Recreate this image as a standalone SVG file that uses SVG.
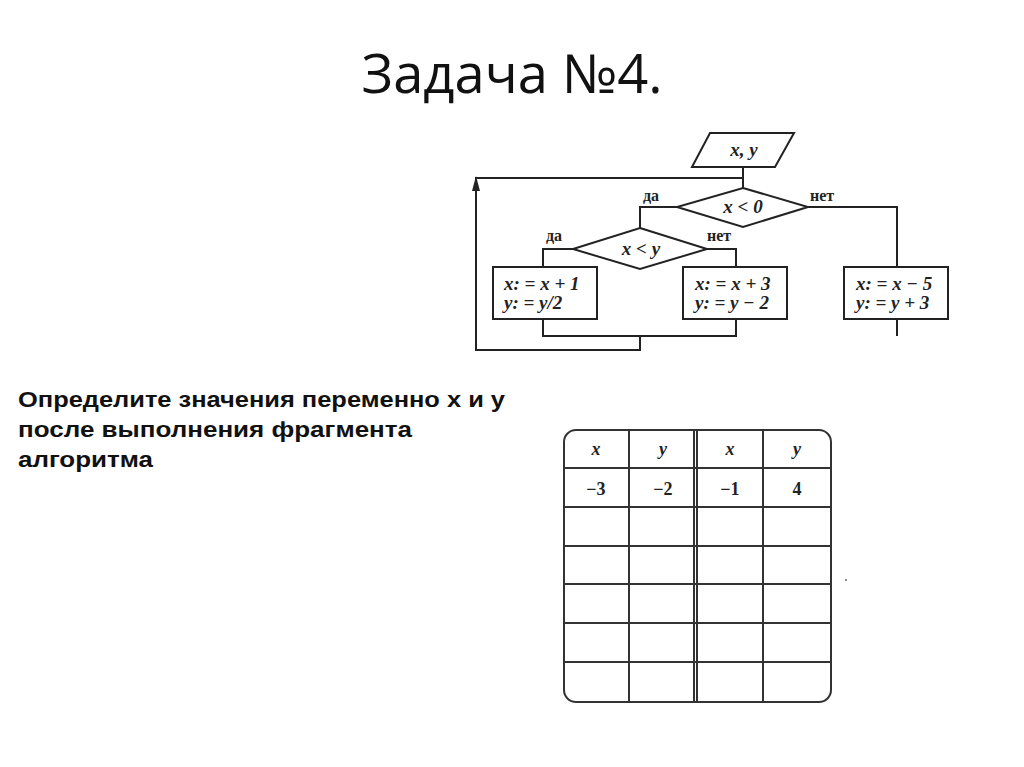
<svg xmlns="http://www.w3.org/2000/svg" width="1024" height="767" viewBox="0 0 1024 767">
<style>
.ln{fill:none;stroke:#222;stroke-width:2}
.sh{fill:#fff;stroke:#222;stroke-width:2}
.m{font-family:"Liberation Serif","DejaVu Serif",serif;font-style:italic;font-weight:bold;font-size:19px;fill:#222}
.lb{font-family:"Liberation Serif","DejaVu Serif",serif;font-weight:bold;font-size:16px;fill:#222}
.n{font-family:"Liberation Serif","DejaVu Serif",serif;font-weight:bold;font-size:18px;fill:#222;text-anchor:middle}
.body{font-family:"Liberation Sans",Arial,sans-serif;font-weight:bold;font-size:22px;fill:#111}
.grid{fill:none;stroke:#333;stroke-width:2}
</style>
<rect width="1024" height="767" fill="#fff"/>
<text x="512" y="93" text-anchor="middle" font-family="'Open Sans','Liberation Sans',sans-serif" font-size="54" fill="#111" textLength="301" lengthAdjust="spacingAndGlyphs">Задача №4.</text>

<g id="connectors">
<path class="ln" d="M743,167 V188"/>
<path class="ln" d="M743,178 H476 V350 H640 V336"/>
<polygon points="476,176 472,191 480,191" fill="#222"/>
<path class="ln" d="M677,207 H640 V228"/>
<path class="ln" d="M808,207 H897 V267"/>
<path class="ln" d="M573,249 H543 V267"/>
<path class="ln" d="M707,249 H736 V267"/>
<path class="ln" d="M543,319 V336 H736 V319"/>
<path class="ln" d="M897,319 V336"/>
</g>

<g id="input">
<polygon class="sh" points="710,133 794,133 775,167 692,167"/>
<text class="m" x="744" y="156" text-anchor="middle">x, y</text>
</g>
<g id="cond1">
<polygon class="sh" points="743,188 808,207 743,227 677,207"/>
<text class="m" x="743" y="213" text-anchor="middle">x &lt; 0</text>
<text class="lb" x="643" y="201">да</text>
<text class="lb" x="810" y="201">нет</text>
</g>
<g id="cond2">
<polygon class="sh" points="640,228 707,249 640,269 573,249"/>
<text class="m" x="641" y="255" text-anchor="middle">x &lt; y</text>
<text class="lb" x="546" y="241">да</text>
<text class="lb" x="707" y="241">нет</text>
</g>
<g id="box1">
<rect class="sh" x="493" y="267" width="104" height="52"/>
<text class="m" x="504" y="290">x: = x + 1</text>
<text class="m" x="504" y="309">y: = y/2</text>
</g>
<g id="box2">
<rect class="sh" x="683" y="267" width="104" height="52"/>
<text class="m" x="695" y="290">x: = x + 3</text>
<text class="m" x="695" y="309">y: = y − 2</text>
</g>
<g id="box3">
<rect class="sh" x="844" y="267" width="104" height="52"/>
<text class="m" x="856" y="290">x: = x − 5</text>
<text class="m" x="856" y="309">y: = y + 3</text>
</g>

<g id="task">
<text class="body" x="18" y="407" textLength="487" lengthAdjust="spacingAndGlyphs">Определите значения переменно х и у</text>
<text class="body" x="18" y="437" textLength="394" lengthAdjust="spacingAndGlyphs">после выполнения фрагмента</text>
<text class="body" x="18" y="467" textLength="135" lengthAdjust="spacingAndGlyphs">алгоритма</text>
</g>

<g id="table">
<rect class="grid" x="564" y="430" width="267" height="272" rx="12"/>
<path class="grid" d="M629,430 V702 M694,430 V702 M697,430 V702 M763,430 V702"/>
<path class="grid" d="M564,468 H831 M564,507 H831 M564,546 H831 M564,584 H831 M564,623 H831 M564,662 H831"/>
<text class="n" font-style="italic" x="596" y="455">x</text>
<text class="n" font-style="italic" x="663" y="455">y</text>
<text class="n" font-style="italic" x="730" y="455">x</text>
<text class="n" font-style="italic" x="797" y="455">y</text>
<text class="n" x="596" y="495">−3</text>
<text class="n" x="663" y="495">−2</text>
<text class="n" x="730" y="495">−1</text>
<text class="n" x="797" y="495">4</text>
</g>
<circle cx="846" cy="580" r="1" fill="#666"/>
</svg>
